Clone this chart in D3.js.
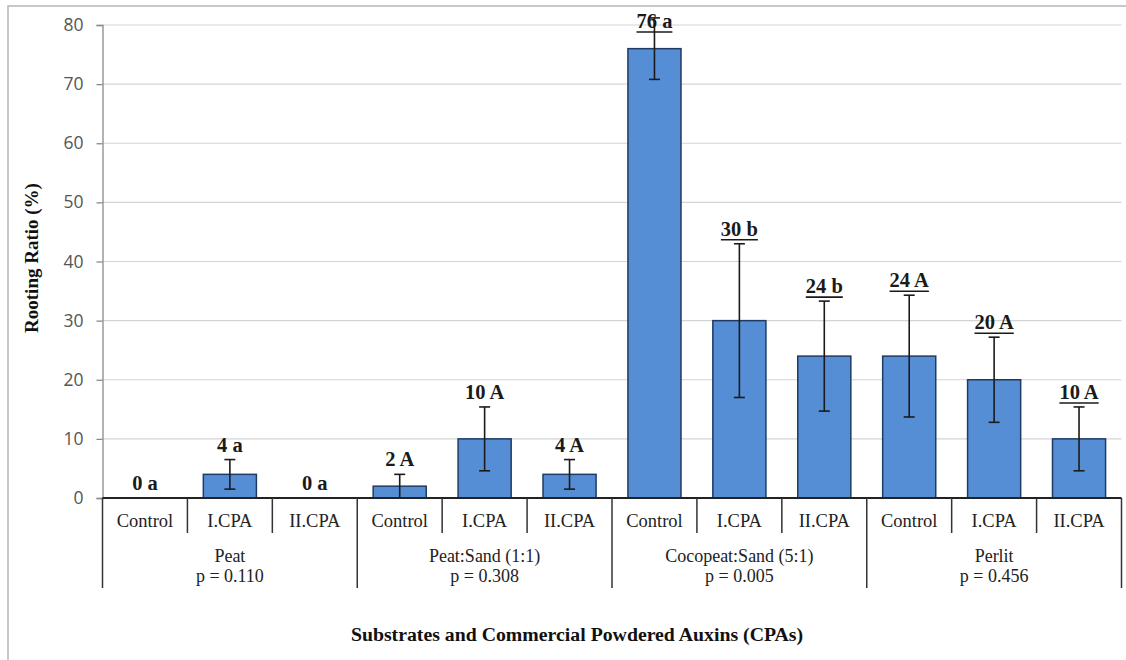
<!DOCTYPE html>
<html>
<head>
<meta charset="utf-8">
<script src="https://cdn.jsdelivr.net/npm/d3@7"></script>
<style>
  html, body { margin: 0; padding: 0; background: #fff; }
  svg { display: block; }
</style>
</head>
<body>
<svg id="chart" width="1126" height="660"></svg>
<script>
// ---- data ----
const groups = ["Peat", "Peat:Sand (1:1)", "Cocopeat:Sand (5:1)", "Perlit"];
const pValues = ["p = 0.110", "p = 0.308", "p = 0.005", "p = 0.456"];
const treatments = ["Control", "I.CPA", "II.CPA"];
const values = [0, 4, 0, 2, 10, 4, 76, 30, 24, 24, 20, 10];
const errors = [0, 2.5, 0, 2, 5.4, 2.5, 5.2, 13, 9.3, 10.3, 7.2, 5.4];
const letters = ["0 a", "4 a", "0 a", "2 A", "10 A", "4 A", "76 a", "30 b", "24 b", "24 A", "20 A", "10 A"];
const underlined = [false, false, false, false, false, false, true, true, true, true, true, true];
const yTicks = [0, 10, 20, 30, 40, 50, 60, 70, 80];

(function () {
// ---- build rows ----
const rows = [];
groups.forEach((g, gi) => treatments.forEach((t, ti) => {
  const i = gi * treatments.length + ti;
  rows.push({ id: i, group: gi, treat: t, v: values[i], e: errors[i], lab: letters[i], ul: underlined[i] });
}));

const svg = d3.select("#chart");
const pLeft = 102.5, pRight = 1121.5, pTop = 25, pBottom = 498;

const x = d3.scaleBand().domain(rows.map(d => d.id)).range([pLeft, pRight])
  .paddingInner(0.375).paddingOuter(0.1875);
const y = d3.scaleLinear().domain([0, 80]).range([pBottom, pTop]);
const step = x.step();

// outer frame
svg.append("rect").attr("x", 8).attr("y", 6).attr("width", 1140).attr("height", 670)
  .attr("fill", "none").attr("stroke", "#b5b5b5").attr("stroke-width", 1.5);

// gridlines
svg.append("g").selectAll("line").data(yTicks.filter(t => t > 0)).join("line")
  .attr("x1", pLeft).attr("x2", pRight)
  .attr("y1", d => y(d)).attr("y2", d => y(d))
  .attr("stroke", "#d4d4d4").attr("stroke-width", 1.2);

// y axis
const yAxis = d3.axisLeft(y).tickValues(yTicks).tickSize(6).tickPadding(13);
const yg = svg.append("g").attr("transform", `translate(${pLeft},0)`).call(yAxis);
yg.select(".domain").attr("stroke", "#8a8a8a").attr("stroke-width", 1.3);
yg.selectAll(".tick line").attr("stroke", "#8a8a8a").attr("stroke-width", 1.3);
yg.selectAll(".tick text").attr("font-family", "'Open Sans', 'Liberation Sans', sans-serif")
  .attr("font-size", 17.5).attr("fill", "#555");

// y axis title
svg.append("text")
  .attr("transform", `translate(38,258) rotate(-90)`)
  .attr("text-anchor", "middle")
  .attr("font-family", "'Liberation Serif', 'Times New Roman', serif")
  .attr("font-weight", "bold").attr("font-size", 19).attr("fill", "#111")
  .text("Rooting Ratio (%)");

// bars
svg.append("g").selectAll("rect").data(rows.filter(d => d.v > 0)).join("rect")
  .attr("x", d => x(d.id)).attr("width", x.bandwidth())
  .attr("y", d => y(d.v)).attr("height", d => y(0) - y(d.v))
  .attr("fill", "#558ed5").attr("stroke", "#1f3b63").attr("stroke-width", 1.5);

// error bars
const eg = svg.append("g").attr("stroke", "#1b1b1b").attr("stroke-width", 1.6);
rows.filter(d => d.e > 0).forEach(d => {
  const cx = x(d.id) + x.bandwidth() / 2;
  const yt = y(d.v + d.e), yb = y(Math.max(0, d.v - d.e));
  eg.append("line").attr("x1", cx).attr("x2", cx).attr("y1", yt).attr("y2", yb);
  eg.append("line").attr("x1", cx - 5.5).attr("x2", cx + 5.5).attr("y1", yt).attr("y2", yt);
  if (d.v - d.e > 0)
    eg.append("line").attr("x1", cx - 5.5).attr("x2", cx + 5.5).attr("y1", yb).attr("y2", yb);
});

// x axis baseline
svg.append("line").attr("x1", pLeft).attr("x2", pRight).attr("y1", y(0)).attr("y2", y(0))
  .attr("stroke", "#222").attr("stroke-width", 1.8);

// value labels
const lg = svg.append("g");
rows.forEach(d => {
  const cx = x(d.id) + x.bandwidth() / 2;
  const base = Math.max(y(d.v + d.e) - 8, y(80) + 3);
  const t = lg.append("text").attr("x", cx).attr("y", base)
    .attr("text-anchor", "middle")
    .attr("font-family", "'Liberation Serif', 'Times New Roman', serif")
    .attr("font-weight", "bold").attr("font-size", 20.5).attr("fill", "#1a1a1a")
    .text(d.lab);
  if (d.ul) {
    const w = t.node().getComputedTextLength();
    lg.append("line").attr("x1", cx - w / 2).attr("x2", cx + w / 2)
      .attr("y1", base + 4).attr("y2", base + 4)
      .attr("stroke", "#1a1a1a").attr("stroke-width", 1.6);
  }
});

// category table
const serif = "'Liberation Serif', 'Times New Roman', serif";
const tg = svg.append("g");
rows.forEach(d => {
  const xl = x(d.id) - step * 0.1875;
  if (d.id % 3 !== 0)
    tg.append("line").attr("x1", xl).attr("x2", xl).attr("y1", y(0)).attr("y2", 533)
      .attr("stroke", "#333").attr("stroke-width", 1.5);
  tg.append("text").attr("x", x(d.id) + x.bandwidth() / 2).attr("y", 527)
    .attr("text-anchor", "middle").attr("font-family", serif).attr("font-size", 18.5)
    .attr("fill", "#222").text(d.treat);
});
const gEdges = groups.map((g, gi) => x(gi * 3) - step * 0.1875).concat([pRight]);
gEdges.forEach(xe => {
  tg.append("line").attr("x1", xe).attr("x2", xe).attr("y1", y(0)).attr("y2", 588)
    .attr("stroke", "#333").attr("stroke-width", 1.5);
});
groups.forEach((g, gi) => {
  const cx = (gEdges[gi] + gEdges[gi + 1]) / 2;
  tg.append("text").attr("x", cx).attr("y", 562).attr("text-anchor", "middle")
    .attr("font-family", serif).attr("font-size", 18).attr("fill", "#222").text(g);
  tg.append("text").attr("x", cx).attr("y", 582).attr("text-anchor", "middle")
    .attr("font-family", serif).attr("font-size", 18).attr("fill", "#222").text(pValues[gi]);
});

// x axis title
svg.append("text").attr("x", 577).attr("y", 641).attr("text-anchor", "middle")
  .attr("font-family", serif).attr("font-weight", "bold").attr("font-size", 19.8)
  .attr("fill", "#111").text("Substrates and Commercial Powdered Auxins (CPAs)");
})();
</script>
</body>
</html>
